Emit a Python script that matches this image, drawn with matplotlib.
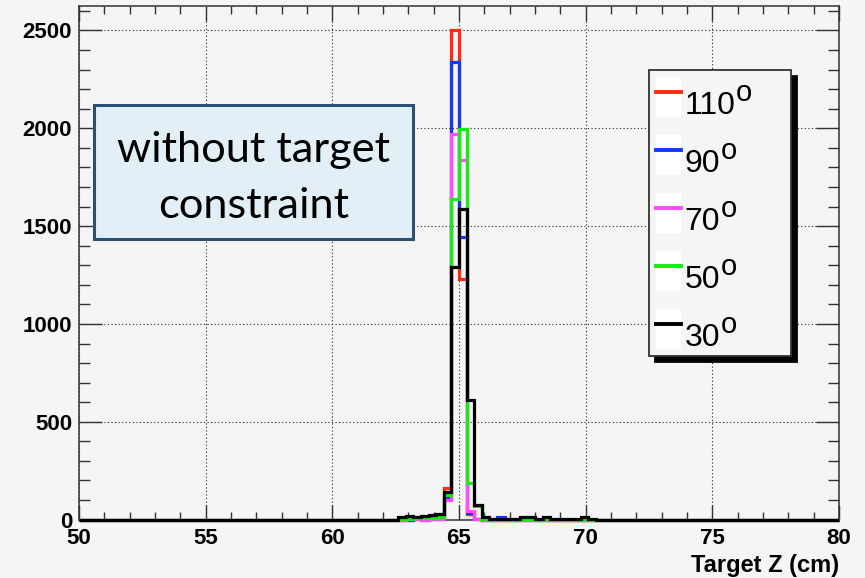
import numpy as np
import matplotlib
matplotlib.use('Agg')
import matplotlib.pyplot as plt
from matplotlib.patches import Rectangle
from matplotlib.lines import Line2D
from matplotlib.legend_handler import HandlerTuple

plt.rcParams['font.family'] = ['Liberation Sans', 'DejaVu Sans']

# ---------------- data ----------------
x_min, x_max = 50.0, 80.0
bin_width = 0.3
first_bin_lo = 62.6          # lower edge of the first listed bin

angle_labels = ['110', '90', '70', '50', '30']
degree_mark = 'o'
colors = ['#ff2a10', '#1436ff', '#ff4cff', '#12ee12', '#000000']

# counts per 0.3 cm bin, starting at 62.6 cm
counts_110 = [0, 0, 1, 1, 2, 4, 160, 2500, 1232, 30, 3, 0, 0, 0, 0, 0, 0, 0, 0, 0, 0, 0, 0, 0, 0, 0]
counts_90 = [0, 0, 1, 0, 2, 5, 110, 2338, 1445, 35, 3, 0, 0, 12, 0, 0, 0, 0, 0, 0, 0, 0, 0, 0, 0, 0]
counts_70 = [0, 1, 2, 0, 1, 3, 100, 1972, 1836, 45, 5, 0, 0, 0, 0, 0, 0, 0, 0, 2, 0, 0, 0, 0, 0, 0]
counts_50 = [2, 5, 8, 8, 10, 12, 125, 1640, 1998, 185, 70, 3, 0, 0, 0, 0, 2, 2, 0, 0, 0, 0, 0, 0, 2, 0]
counts_30 = [15, 20, 15, 20, 25, 30, 143, 1292, 1590, 611, 75, 15, 5, 5, 3, 5, 12, 12, 3, 12, 3, 2, 2, 2, 12, 2]
series = [counts_110, counts_90, counts_70, counts_50, counts_30]

x_ticks = [50, 55, 60, 65, 70, 75, 80]
y_ticks = [0, 500, 1000, 1500, 2000, 2500]
x_label = 'Target Z (cm)'
box_lines = ['without target', 'constraint']

# ---------------- figure ----------------
W, H = 865, 578
bg = '#f5f5f5'
fig = plt.figure(figsize=(W / 100, H / 100), dpi=100, facecolor=bg)

ax_l, ax_r, ax_t, ax_b = 79, 839, 6, 519.6
ax = fig.add_axes([ax_l / W, 1 - ax_b / H, (ax_r - ax_l) / W, (ax_b - ax_t) / H])
ax.set_facecolor(bg)

n_bins = int(round((x_max - x_min) / bin_width))
edges = np.linspace(x_min, x_max, n_bins + 1)
offset = int(round((first_bin_lo - x_min) / bin_width))

handles = []
for vals, col, lab in zip(series, colors, angle_labels):
    full = np.zeros(n_bins)
    full[offset:offset + len(vals)] = vals
    ax.stairs(full, edges, color=col, linewidth=2.3, clip_on=False, zorder=3)
    handles.append((Rectangle((0, 0), 1, 1, facecolor='white', edgecolor='none'),
                    Line2D([], [], color=col, linewidth=2.8)))

ax.set_xlim(x_min, x_max)
ax.set_ylim(0, 2625)
ax.set_xticks(x_ticks)
ax.set_yticks(y_ticks)
ax.set_xticks(np.arange(50, 81, 1), minor=True)
ax.set_yticks(np.arange(0, 2601, 100), minor=True)

ax.grid(True, which='major', color='#222222', linestyle=(0, (1, 2.2)), linewidth=0.8, zorder=1)

ax.tick_params(which='both', direction='in', top=True, right=True, color='#333333', width=1.0)
ax.tick_params(axis='x', which='major', length=11, pad=6, labelsize=16)
ax.tick_params(axis='x', which='minor', length=5.5)
ax.tick_params(axis='y', which='major', length=16.5, pad=5, labelsize=16)
ax.tick_params(axis='y', which='minor', length=8.2)
for lab in ax.get_xticklabels() + ax.get_yticklabels():
    lab.set_fontweight('bold')
for s in ax.spines.values():
    s.set_color('#333333')
    s.set_linewidth(1.1)

ax.set_xlabel(x_label, loc='right', fontsize=17, fontweight='bold', labelpad=4)

# legend (ROOT-like: white marker boxes, black drop shadow)
lx0, ly0, lx1, ly1 = 649, 70, 791, 358
aw, ah = ax_r - ax_l, ax_b - ax_t
leg = ax.legend(handles, angle_labels,
                handler_map={tuple: HandlerTuple(ndivide=1, pad=0)},
                loc='upper left', mode='expand',
                bbox_to_anchor=((lx0 - ax_l) / aw, 1 - (ly1 - ax_t) / ah, (lx1 - lx0) / aw, (ly1 - ly0) / ah),
                borderaxespad=0, fontsize=23, handlelength=0.78, handleheight=1.546,
                handletextpad=0.12, labelspacing=0.5625, borderpad=0.22,
                fancybox=False, framealpha=1, facecolor=bg, edgecolor='#333333',
                shadow={'ox': 4.5, 'oy': -4.5, 'facecolor': 'black', 'edgecolor': 'black', 'alpha': 1})
leg.get_frame().set_linewidth(1.3)
leg.set_zorder(5)
for t in leg.get_texts():
    t.set_y(-6.5)   # sit the labels a little lower, as in ROOT

# text box
bx0, by0, bx1, by1 = 94, 105, 413, 239
fig.patches.append(Rectangle((bx0 / W, 1 - by1 / H), (bx1 - bx0) / W, (by1 - by0) / H,
                             transform=fig.transFigure, facecolor='#e2eff6', edgecolor='#2b5072',
                             linewidth=2.2, zorder=4))
txts = []
for line, yb in zip(box_lines, [162, 218]):
    txts.append(fig.text((bx0 + bx1) / 2 / W, 1 - yb / H, line, ha='center', va='baseline',
                         family=['Lato', 'DejaVu Sans'], fontsize=26, zorder=6))
fig.canvas.draw()
r = fig.canvas.get_renderer()
w = txts[0].get_window_extent(r).width
for tt in txts:
    tt.set_fontsize(26 * 273 / w)

# degree marks on the legend labels
fig.canvas.draw()
for t in leg.get_texts():
    bb = t.get_window_extent(r)
    lp_d = r.get_text_width_height_descent('lp', t.get_fontproperties(), ismath=False)[2]
    base = bb.y0 + lp_d
    fig.text((bb.x1 + 0.5) / W, (base + 13) / H, degree_mark, ha='left', va='baseline',
             fontsize=21, zorder=7)

fig.savefig('out.png', dpi=100, facecolor=bg)
